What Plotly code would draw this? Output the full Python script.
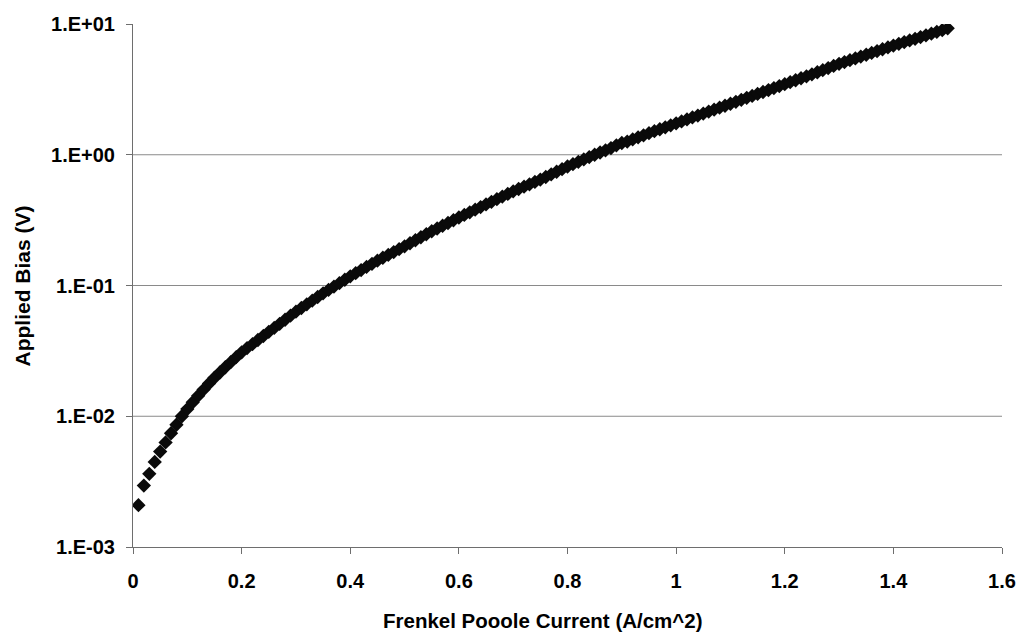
import math
import plotly.graph_objects as go

# Frenkel-Poole current density (A/cm^2) and applied bias (V)
current = [round(0.01 * i, 2) for i in range(1, 151)]
bias = [
    0.00209, 0.00295, 0.00363, 0.00447, 0.00537, 0.00631, 0.00741, 0.00861, 0.0100, 0.01135,
    0.0128, 0.01435, 0.0160, 0.0178, 0.0197, 0.0216, 0.0237, 0.0259, 0.0283, 0.0308,
    0.0332, 0.0356, 0.0383, 0.0411, 0.0442, 0.0474, 0.0509, 0.0547, 0.0588, 0.0631,
    0.0673, 0.0718, 0.0766, 0.0817, 0.0871, 0.0925, 0.0982, 0.1042, 0.1107, 0.1175,
    0.1242, 0.1312, 0.1387, 0.1466, 0.1549, 0.1630, 0.1714, 0.1803, 0.1897, 0.1995,
    0.2104, 0.2218, 0.2339, 0.2466, 0.2600, 0.2729, 0.2864, 0.3006, 0.3155, 0.3311,
    0.3467, 0.3631, 0.3802, 0.3981, 0.4169, 0.4365, 0.4571, 0.4786, 0.5012, 0.5248,
    0.5470, 0.5702, 0.5943, 0.6194, 0.6457, 0.6761, 0.7079, 0.7413, 0.7762, 0.8128,
    0.8472, 0.8831, 0.9204, 0.9594, 1.000, 1.040, 1.081, 1.125, 1.180, 1.230,
    1.262, 1.309, 1.358, 1.409, 1.462, 1.514, 1.567, 1.622, 1.679, 1.738,
    1.799, 1.862, 1.928, 1.995, 2.065, 2.138, 2.213, 2.291, 2.371, 2.455,
    2.541, 2.630, 2.723, 2.818, 2.917, 3.020, 3.126, 3.236, 3.350, 3.467,
    3.589, 3.715, 3.846, 3.981, 4.121, 4.276, 4.436, 4.603, 4.775, 4.955,
    5.117, 5.284, 5.458, 5.636, 5.821, 6.012, 6.209, 6.412, 6.622, 6.839,
    7.047, 7.261, 7.482, 7.709, 7.943, 8.185, 8.433, 8.710, 8.974, 9.268,
]

y_ticks = [1e-3, 1e-2, 1e-1, 1e0, 1e1]
y_tick_text = ["1.E-03", "1.E-02", "1.E-01", "1.E+00", "1.E+01"]
x_ticks = [0, 0.2, 0.4, 0.6, 0.8, 1.0, 1.2, 1.4, 1.6]
x_tick_text = ["0", "0.2", "0.4", "0.6", "0.8", "1", "1.2", "1.4", "1.6"]
grid_levels = [1e-2, 1e-1, 1e0]
y_lo, y_hi = -3, 1  # log10 range of the bias axis

FONT = "Liberation Sans, Arial, sans-serif"

fig = go.Figure()
fig.add_trace(go.Scatter(
    x=current, y=bias, mode="markers",
    marker=dict(symbol="diamond", size=11, color="#0a0a0a",
                line=dict(width=0)),
    showlegend=False,
))

# horizontal gridlines at the inner decades (none along the top edge)
for level in grid_levels:
    yp = (math.log10(level) - y_lo) / (y_hi - y_lo)
    fig.add_shape(type="line", xref="paper", yref="paper", x0=0, x1=1, y0=yp, y1=yp,
                  line=dict(color="#8a8a8a", width=1), layer="below")

fig.update_layout(
    width=1018, height=635,
    margin=dict(l=133, r=16, t=24, b=88),
    paper_bgcolor="white", plot_bgcolor="white",
    font=dict(family=FONT, color="#000000"),
    xaxis=dict(
        range=[0, 1.6], tickvals=x_ticks, ticktext=x_tick_text,
        showgrid=False, zeroline=False, automargin=False,
        showline=True, linecolor="#6e6e6e", linewidth=1,
        ticks="outside", ticklen=6, tickcolor="#6e6e6e",
        tickfont=dict(size=20, family=FONT, weight="bold"),
        ticklabelstandoff=10,
    ),
    yaxis=dict(
        type="log", range=[y_lo, y_hi], tickvals=y_ticks, ticktext=y_tick_text,
        showgrid=False, zeroline=False, automargin=False,
        showline=True, linecolor="#6e6e6e", linewidth=1,
        ticks="outside", ticklen=6, tickcolor="#6e6e6e",
        tickfont=dict(size=20, family=FONT, weight="bold"),
        ticklabelstandoff=7,
    ),
    annotations=[
        dict(text="Frenkel Pooole Current (A/cm^2)", xref="paper", yref="paper",
             x=(543 - 133) / 869, y=-(620 - 547) / 523, xanchor="center", yanchor="middle",
             showarrow=False, font=dict(size=20.5, family=FONT, weight="bold")),
        dict(text="Applied Bias (V)", xref="paper", yref="paper",
             x=-(133 - 22) / 869, y=0.5, xanchor="center", yanchor="middle",
             textangle=-90, showarrow=False,
             font=dict(size=21, family=FONT, weight="bold")),
    ],
)

fig.write_html("out.html")
